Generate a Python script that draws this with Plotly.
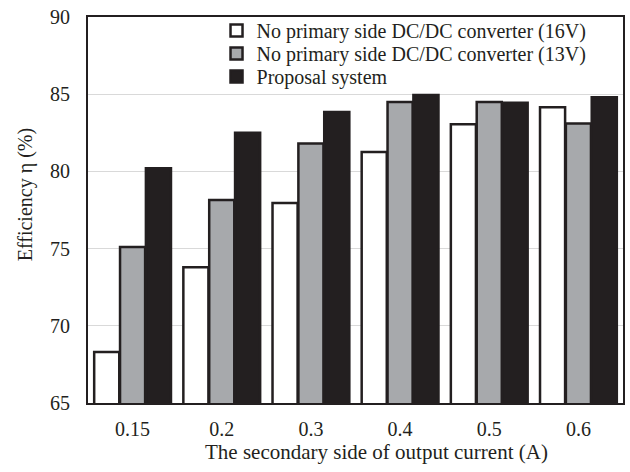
import plotly.graph_objects as go

categories = ["0.15", "0.2", "0.3", "0.4", "0.5", "0.6"]
series_names = [
    "No primary side DC/DC converter (16V)",
    "No primary side DC/DC converter (13V)",
    "Proposal system",
]
eff_16v = [68.3, 73.8, 77.95, 81.25, 83.05, 84.15]
eff_13v = [75.1, 78.15, 81.8, 84.5, 84.5, 83.1]
eff_prop = [80.2, 82.5, 83.85, 84.95, 84.45, 84.8]
y_ticks = [65, 70, 75, 80, 85, 90]
x_title = "The secondary side of output current (A)"
y_title = "Efficiency η (%)"

dark = "#231f20"
fills = ["#ffffff", "#a7a9ac", dark]
font_fam = "Liberation Serif, Times New Roman, serif"

W, H = 630, 472
ML, MR, MT, MB = 88, 5, 17, 69
PW, PH = W - ML - MR, H - MT - MB

legend_ids = ["legend", "legend2", "legend3"]
row_centers = [30, 53, 76]

fig = go.Figure()
for name, vals, col, lid in zip(series_names, [eff_16v, eff_13v, eff_prop], fills, legend_ids):
    fig.add_trace(go.Bar(
        x=categories, y=vals, name=name, legend=lid,
        marker=dict(color=col, line=dict(color=dark, width=2.5)),
    ))

leg_layout = {}
for lid, yc in zip(legend_ids, row_centers):
    leg_layout[lid] = dict(
        x=(217 - ML) / PW, y=1 - (yc - 19 - MT) / PH, xanchor="left", yanchor="top",
        bgcolor="rgba(0,0,0,0)", font=dict(size=20, family=font_fam, color=dark),
        itemwidth=30,
    )

fig.update_layout(
    width=W, height=H,
    margin=dict(l=ML, r=MR, t=MT, b=MB),
    paper_bgcolor="white", plot_bgcolor="white",
    barmode="group", bargap=0.13, bargroupgap=0.03,
    font=dict(family=font_fam, size=20, color=dark),
    showlegend=True,
    **leg_layout,
)
fig.update_xaxes(
    type="category", showline=True, mirror=True, linewidth=2, linecolor=dark,
    ticks="", tickfont=dict(size=20), ticklabelstandoff=7,
)
fig.update_yaxes(
    range=[65, 90], tickvals=y_ticks, showline=True, mirror=True, linewidth=2,
    linecolor=dark, ticks="", showgrid=True, gridcolor="#d9d9d9", gridwidth=1,
    tickfont=dict(size=20), zeroline=False, ticklabelstandoff=12,
)
fig.add_annotation(text=x_title, xref="paper", yref="paper",
                   x=(378 - ML) / PW, y=-(452 - MT - PH) / PH,
                   xanchor="center", yanchor="middle", showarrow=False,
                   font=dict(size=21, family=font_fam, color=dark))
fig.add_annotation(text=y_title, xref="paper", yref="paper",
                   x=(25 - ML) / PW, y=1 - (195 - MT) / PH, textangle=-90,
                   xanchor="center", yanchor="middle", showarrow=False,
                   font=dict(size=20, family=font_fam, color=dark))

fig.write_html("out.html", config={"displayModeBar": False},
               post_script="document.body.style.margin='0';")
